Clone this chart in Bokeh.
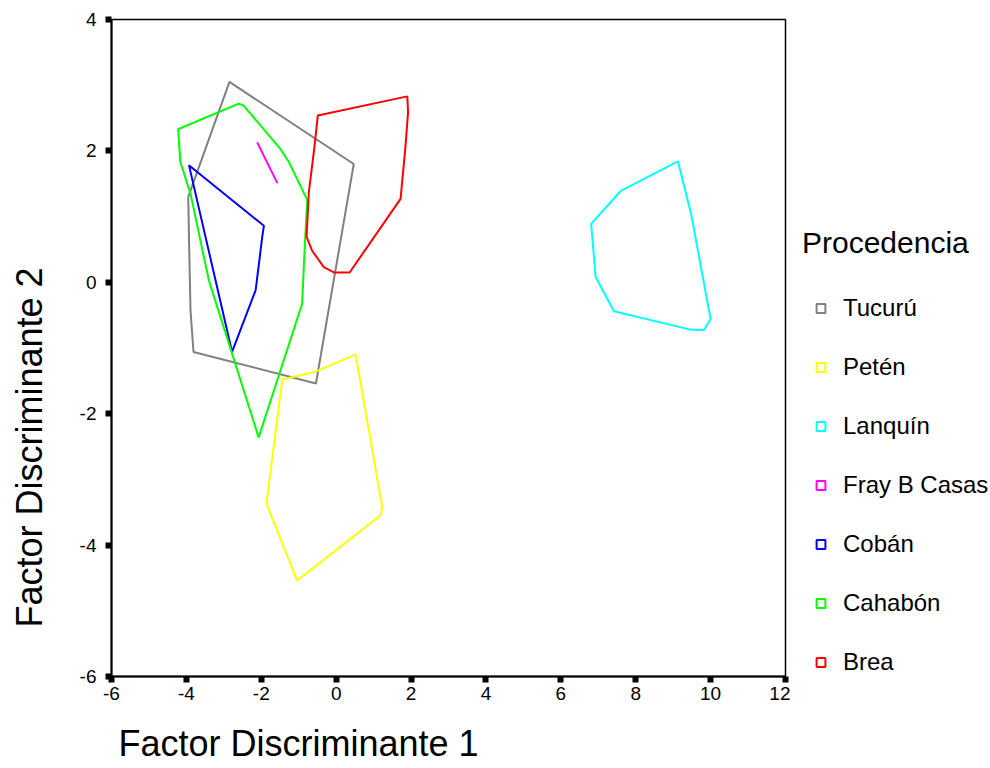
from bokeh.plotting import figure
from bokeh.layouts import row
from bokeh.models import Range1d, Legend, LegendItem, Title, FixedTicker, LinearAxis
from bokeh.embed import file_html
from bokeh.resources import INLINE

# ---- data ----
groups = ["Tucurú", "Petén", "Lanquín", "Fray B Casas", "Cobán", "Cahabón", "Brea"]
colors = ["#808080", "#FFFF00", "#00FFFF", "#FF00FF", "#0000FF", "#00FF00", "#FF0000"]

tucuru_x = [-2.85, 0.47, -0.54, -3.81, -3.89, -3.93, -3.95]
tucuru_y = [3.05, 1.80, -1.54, -1.06, -0.43, 0.66, 1.30]

peten_x = [0.52, 1.23, 1.18, -1.04, -1.86, -1.44, -0.60]
peten_y = [-1.10, -3.42, -3.55, -4.54, -3.37, -1.48, -1.37]

lanquin_x = [9.13, 9.48, 10.00, 9.82, 9.46, 7.42, 6.93, 6.81, 7.60]
lanquin_y = [1.84, 1.04, -0.56, -0.73, -0.72, -0.44, 0.08, 0.89, 1.39]

fray_x = [-2.11, -1.57]
fray_y = [2.13, 1.51]

coban_x = [-3.93, -3.71, -1.93, -1.97, -2.15, -2.78]
coban_y = [1.78, 1.68, 0.86, 0.71, -0.12, -1.06]

cahabon_x = [-4.22, -2.60, -2.47, -1.49, -1.26, -0.77, -0.82, -0.91, -2.07, -3.40, -3.89, -4.16]
cahabon_y = [2.33, 2.72, 2.69, 2.03, 1.83, 1.25, 0.76, -0.33, -2.36, 0.03, 1.35, 1.83]

brea_x = [-0.49, 1.90, 1.92, 1.85, 1.72, 0.36, -0.06, -0.33, -0.64, -0.79, -0.73, -0.58]
brea_y = [2.54, 2.83, 2.59, 2.06, 1.27, 0.15, 0.15, 0.23, 0.48, 0.69, 1.37, 2.06]

x_ticks = [-6, -4, -2, 0, 2, 4, 6, 8, 10, 12]
y_ticks = [-6, -4, -2, 0, 2, 4]

xs = [tucuru_x, peten_x, lanquin_x, fray_x, coban_x, cahabon_x, brea_x]
ys = [tucuru_y, peten_y, lanquin_y, fray_y, coban_y, cahabon_y, brea_y]

FONT = "Liberation Sans"

p = figure(frame_width=674, frame_height=657, output_backend="svg", toolbar_location=None,
           x_range=Range1d(-6, 12), y_range=Range1d(-6, 4),
           min_border_left=111, min_border_right=5,
           min_border_top=19, min_border_bottom=40)
p.background_fill_color = "white"
p.border_fill_color = "white"
p.outline_line_color = "black"
p.outline_line_width = 1.5
p.xgrid.visible = False
p.ygrid.visible = False

# polygons
for gx, gy, c in zip(xs, ys, colors):
    px = gx + [gx[0]] if len(gx) > 2 else gx
    py = gy + [gy[0]] if len(gy) > 2 else gy
    p.patch(x=px, y=py, fill_alpha=0, line_color=c, line_width=2)

# axes
for ax in (p.xaxis[0], p.yaxis[0]):
    ax.axis_line_width = 2
    ax.axis_line_color = "black"
    ax.major_tick_line_width = 6
    ax.major_tick_line_color = "black"
    ax.major_tick_out = 6
    ax.major_tick_in = 0
    ax.minor_tick_line_color = None
    ax.major_label_text_font = FONT
    ax.major_label_text_font_size = "19px"
    ax.major_label_text_color = "black"
p.xaxis[0].ticker = FixedTicker(ticks=x_ticks)
p.yaxis[0].ticker = FixedTicker(ticks=y_ticks)
p.xaxis[0].major_label_overrides = {t: str(t) for t in x_ticks}
p.yaxis[0].major_label_overrides = {t: str(t) for t in y_ticks}
p.xaxis[0].major_label_standoff = 4
p.yaxis[0].major_label_standoff = 9


def spacer(size, at):
    # blank axis (white tick, empty label) that only reserves room before a title
    return LinearAxis(ticker=FixedTicker(ticks=[at]), major_label_overrides={at: ""},
                      axis_line_color="white", axis_line_alpha=0,
                      major_tick_out=size, major_tick_in=0, major_tick_line_color="white",
                      minor_tick_out=0, minor_tick_in=0, minor_tick_line_color="white",
                      major_label_standoff=0, major_label_text_font_size="1px")


# axis titles (with blank spacers between axis and title)
p.add_layout(spacer(18, 12), "below")
p.add_layout(Title(text="Factor Discriminante 1", align="left", offset=7,
                   text_font=FONT, text_font_size="36px", text_font_style="normal",
                   text_color="black", standoff=0), "below")
p.add_layout(spacer(27, 4), "left")
p.add_layout(Title(text="Factor Discriminante 2", align="left", offset=49,
                   text_font=FONT, text_font_size="36px", text_font_style="normal",
                   text_color="black", standoff=0), "left")

# separate legend panel to the right of the plot (frame aligned with the plot's frame)
lg = figure(frame_width=186, frame_height=657, output_backend="svg",
            toolbar_location=None, x_axis_type=None, y_axis_type=None,
            min_border_left=12, min_border_top=19, min_border_right=0, min_border_bottom=0,
            x_range=Range1d(0, 1), y_range=Range1d(0, 1))
lg.outline_line_color = None
lg.background_fill_color = "white"
lg.border_fill_color = "white"

items = []
for g, c in zip(groups, colors):
    r = lg.scatter(x=[float("nan")], y=[float("nan")], marker="square", size=9,
                   fill_color=None, line_color=c, line_width=2)
    items.append(LegendItem(label=g, renderers=[r]))

legend = Legend(items=items, location="bottom_left", title="Procedencia",
                title_text_font=FONT, title_text_font_size="30px",
                title_text_font_style="normal", title_text_color="black",
                title_standoff=34,
                label_text_font=FONT, label_text_font_size="24px", label_text_color="black",
                glyph_width=37, glyph_height=22, label_height=22, label_standoff=4,
                spacing=31, padding=0, margin=0,
                border_line_color=None, background_fill_alpha=0)
lg.add_layout(legend, "center")

layout = row(p, lg)
open("out.html", "w").write(file_html(layout, INLINE))
